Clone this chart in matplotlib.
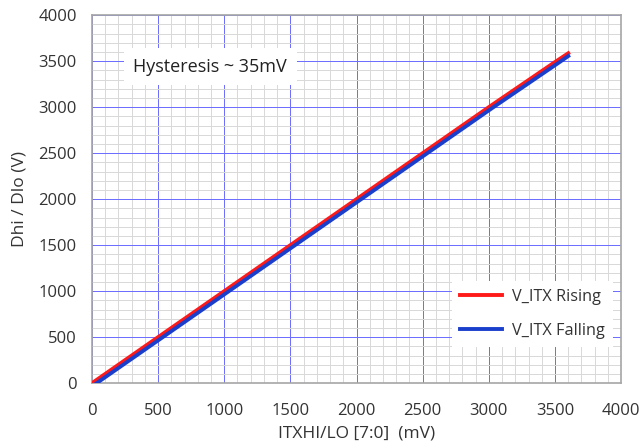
import numpy as np
import matplotlib.pyplot as plt
from matplotlib.ticker import MultipleLocator, FixedLocator

plt.rcParams['font.family'] = ['Open Sans', 'DejaVu Sans']

# data (mV in, V out)
rise_x = [0, 500, 1000, 1500, 2000, 2500, 3000, 3500, 3600]
rise_y = [0, 500, 1000, 1500, 2000, 2500, 3000, 3490, 3585]
fall_x = [35, 535, 1035, 1535, 2035, 2535, 3035, 3535, 3600]
fall_y = [0, 500, 1000, 1500, 2000, 2500, 3000, 3490, 3555]

fig = plt.figure(figsize=(6.41, 4.45), dpi=100)
ax = fig.add_axes([0.1435, 0.139, 0.8255, 0.827])

ax.plot(rise_x, rise_y, color='#ff1a1a', lw=2.8, label='V_ITX Rising', zorder=3)
ax.plot(fall_x, fall_y, color='#1a3fcc', lw=2.8, label='V_ITX Falling', zorder=3)

ax.set_xlim(0, 4000)
ax.set_ylim(0, 4000)
minor = [v for v in range(0, 4001, 100) if v % 500 != 0]
ax.xaxis.set_major_locator(MultipleLocator(500))
ax.yaxis.set_major_locator(MultipleLocator(500))
ax.xaxis.set_minor_locator(FixedLocator(minor))
ax.yaxis.set_minor_locator(FixedLocator(minor))
ax.grid(which='minor', color='#d9d9d9', lw=0.72, snap=True)
ax.grid(which='major', color='#6f6fff', lw=0.72, snap=True)
ax.set_axisbelow(True)
ax.tick_params(which='both', length=0, labelsize=12, colors='#333333')
ax.tick_params(axis='x', pad=14)
ax.tick_params(axis='y', pad=11)
for s in ax.spines.values():
    s.set_color('#a6a6a6')
    s.set_linewidth(1.2)

ax.set_xlabel('ITXHI/LO [7:0]  (mV)', fontsize=12.5, color='#333333', labelpad=5)
ax.set_ylabel('Dhi / Dlo (V)', fontsize=12.5, color='#333333', labelpad=8)

ax.text(0.078, 0.86, 'Hysteresis ~ 35mV', transform=ax.transAxes, fontsize=13,
        color='#222222', va='center', ha='left',
        bbox=dict(facecolor='white', edgecolor='none', pad=7), zorder=4)

leg = ax.legend(loc='lower right', bbox_to_anchor=(1.0, 0.076), frameon=True,
                fontsize=11.7, handlelength=2.6, handletextpad=0.6,
                labelspacing=1.1, borderpad=0.5)
leg.get_frame().set_edgecolor('none')
leg.get_frame().set_facecolor('white')
leg.get_frame().set_alpha(1)
leg.get_frame().set_boxstyle('square', pad=0)
for t in leg.get_texts():
    t.set_color('#333333')

fig.savefig('out.png', dpi=100)
